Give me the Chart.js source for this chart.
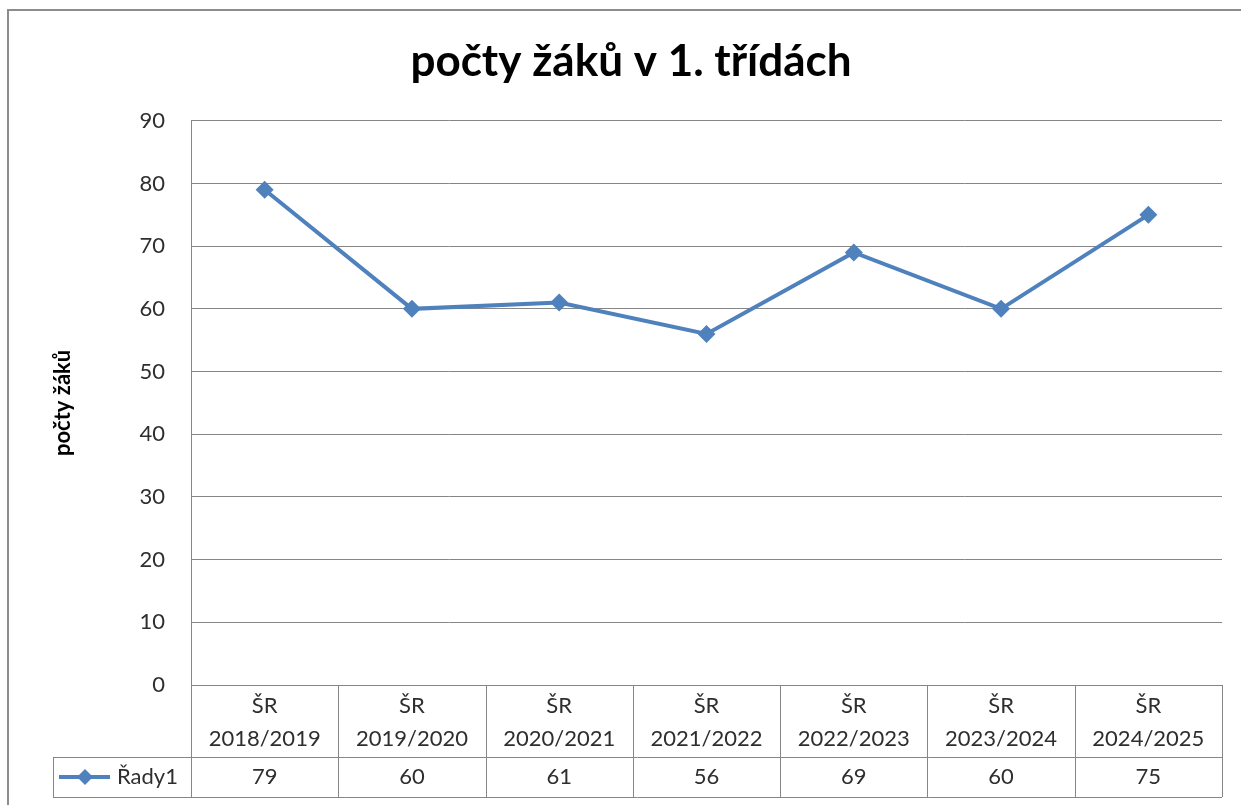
<!DOCTYPE html>
<html>
<head>
<meta charset="utf-8">
<script src="https://cdn.jsdelivr.net/npm/chart.js@4.4.1/dist/chart.umd.min.js"></script>
<style>
  body { margin: 0; background: #fff; }
  #wrap { width: 1241px; height: 805px; }
</style>
</head>
<body>
<div id="wrap"><canvas id="chart" width="1241" height="805"></canvas></div>
<script>
// data
const categories = [
  ["ŠR", "2018/2019"], ["ŠR", "2019/2020"], ["ŠR", "2020/2021"], ["ŠR", "2021/2022"],
  ["ŠR", "2022/2023"], ["ŠR", "2023/2024"], ["ŠR", "2024/2025"]
];
const pupils = [79, 60, 61, 56, 69, 60, 75];
const seriesName = "Řady1";
const chartTitle = "počty žáků v 1. třídách";
const yTitle = "počty žáků";

const FONT = "Lato, 'Open Sans', sans-serif";
const LINE = "#4F81BD";
const GRID = "#868686";
const TEXT = "#2e2e2e";

// frame + data table under the plot (Excel style)
const tablePlugin = {
  id: "dataTable",
  beforeDraw(chart) {
    const ctx = chart.ctx;
    ctx.save();
    ctx.fillStyle = "#fff";
    ctx.fillRect(0, 0, chart.width, chart.height);
    ctx.strokeStyle = "#8c8c8c";
    ctx.lineWidth = 2;
    ctx.beginPath();
    ctx.moveTo(8, chart.height);
    ctx.lineTo(8, 10);
    ctx.lineTo(chart.width, 10);
    ctx.stroke();
    ctx.restore();
  },
  afterDraw(chart) {
    const ctx = chart.ctx;
    const x = chart.scales.x;
    const area = chart.chartArea;
    const colW = (area.right - area.left) / categories.length;
    const top = area.bottom;
    const mid = x.bottom - 40;
    const bot = x.bottom;
    const legLeft = 53;

    ctx.save();
    ctx.strokeStyle = GRID;
    ctx.lineWidth = 1;
    ctx.beginPath();
    ctx.moveTo(area.left, top + 0.5); ctx.lineTo(area.right, top + 0.5);
    ctx.moveTo(legLeft, mid + 0.5); ctx.lineTo(area.right, mid + 0.5);
    ctx.moveTo(legLeft, bot + 0.5); ctx.lineTo(area.right, bot + 0.5);
    ctx.moveTo(legLeft + 0.5, mid); ctx.lineTo(legLeft + 0.5, bot);
    for (let i = 0; i <= categories.length; i++) {
      const px = Math.round(area.left + i * colW) + 0.5;
      ctx.moveTo(px, top); ctx.lineTo(px, bot);
    }
    ctx.stroke();

    // values row
    ctx.fillStyle = TEXT;
    ctx.font = "22px " + FONT;
    ctx.textAlign = "center";
    ctx.textBaseline = "middle";
    const rowY = (mid + bot) / 2;
    pupils.forEach((v, i) => {
      ctx.fillText(String(v), x.getPixelForValue(i), rowY);
    });

    // legend key
    ctx.strokeStyle = LINE;
    ctx.lineWidth = 4;
    ctx.beginPath();
    ctx.moveTo(59, rowY); ctx.lineTo(110, rowY);
    ctx.stroke();
    ctx.fillStyle = LINE;
    ctx.beginPath();
    ctx.moveTo(85, rowY - 8); ctx.lineTo(93, rowY); ctx.lineTo(85, rowY + 8); ctx.lineTo(77, rowY);
    ctx.closePath();
    ctx.fill();
    ctx.fillStyle = TEXT;
    ctx.textAlign = "left";
    ctx.fillText(seriesName, 117, rowY);
    ctx.restore();
  }
};

new Chart(document.getElementById("chart"), {
  type: "line",
  data: {
    labels: categories,
    datasets: [{
      label: seriesName,
      data: pupils,
      borderColor: LINE,
      backgroundColor: LINE,
      borderWidth: 4,
      tension: 0,
      pointStyle: "rectRot",
      pointRadius: 9,
      pointBorderWidth: 0,
      pointBackgroundColor: LINE
    }]
  },
  options: {
    responsive: false,
    animation: false,
    layout: { padding: { top: 0, left: 40, right: 19, bottom: 8 } },
    plugins: {
      legend: { display: false },
      tooltip: { enabled: false },
      title: {
        display: true,
        text: chartTitle,
        color: "#000",
        font: { family: FONT, size: 44, weight: "bold" },
        padding: { top: 35, bottom: 33 }
      }
    },
    scales: {
      x: {
        offset: true,
        grid: { display: false, drawTicks: false },
        border: { display: false },
        ticks: {
          color: TEXT,
          font: { family: FONT, size: 22, lineHeight: 1.5 },
          padding: 4,
          maxRotation: 0,
          autoSkip: false
        },
        afterFit(scale) { scale.height = 112; }
      },
      y: {
        min: 0,
        max: 90,
        grid: { color: GRID, drawTicks: false },
        border: { display: true, color: GRID },
        ticks: {
          stepSize: 10,
          color: TEXT,
          padding: 26,
          font: { family: FONT, size: 22 }
        },
        title: {
          display: true,
          text: yTitle,
          color: "#000",
          font: { family: FONT, size: 22, weight: "bold" },
          padding: { top: 10, bottom: 0 }
        },
        afterFit(scale) { scale.width = 151; }
      }
    }
  },
  plugins: [tablePlugin]
});
</script>
</body>
</html>
